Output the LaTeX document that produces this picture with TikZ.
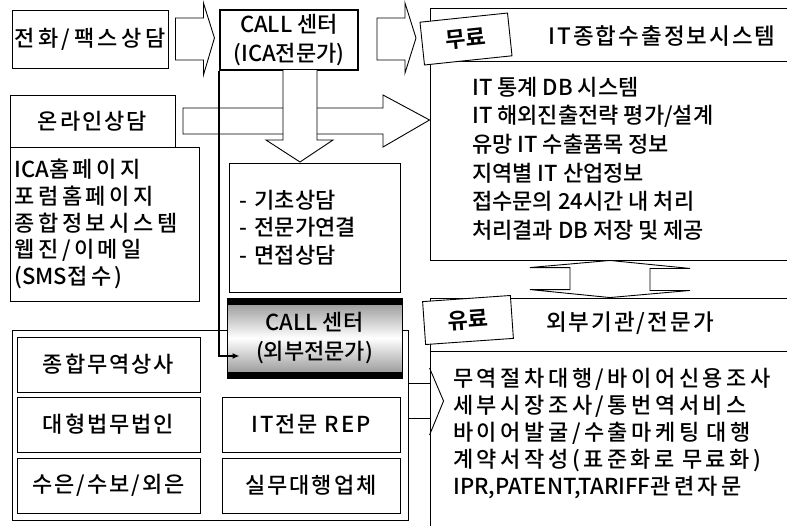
\documentclass[tikz,border=0pt]{standalone}
\usepackage{fontspec}
\usepackage{tikz}
\usetikzlibrary{arrows.meta, positioning, calc}
\IfFontExistsTF{Noto Sans CJK KR Medium}
  {\newcommand{\krname}{Noto Sans CJK KR Medium}}
  {\newcommand{\krname}{Noto Sans CJK KR}}
\newfontfamily\kr{\krname}[BoldFont={Noto Sans CJK KR Bold}]
\newfontfamily\krwide{\krname}[LetterSpace=16]
\newfontfamily\krmid{\krname}[LetterSpace=9]

\begin{document}
\begin{tikzpicture}[x=1pt, y=-1pt,
    box/.style={draw, line width=0.9pt, fill=white, align=center, inner sep=0pt,
                font=\kr\fontsize{22}{27}\selectfont},
    widebox/.style={box, font=\krwide\fontsize{22}{26.7}\selectfont},
    subbox/.style={box, minimum width=183pt, minimum height=55pt,
                   font=\krmid\fontsize{22}{27}\selectfont},
    callbox/.style={box, line width=2.4pt, font=\kr\fontsize{22}{29}\selectfont},
    calldark/.style={box, line width=1pt, font=\kr\fontsize{22}{29}\selectfont,
                     top color=black!45, bottom color=black!45, middle color=white,
                     path picture={
                       \fill[black] (path picture bounding box.north west)
                         rectangle ([yshift=-7pt]path picture bounding box.north east);
                       \fill[black] (path picture bounding box.south west)
                         rectangle ([yshift=6pt]path picture bounding box.south east);}},
    panel/.style={draw, line width=0.9pt, fill=white},
    tag/.style={draw, line width=0.9pt, fill=white, minimum width=88pt, minimum height=43pt,
                font=\kr\bfseries\fontsize{22}{27}\selectfont},
    title/.style={font=\krmid\fontsize{22.5}{27}\selectfont},
    listtext/.style={align=left, inner sep=0pt, font=\kr\fontsize{22}{28.6}\selectfont},
    barrow/.style={draw, line width=0.9pt, fill=white, line join=miter},
    link/.style={line width=1.4pt, -{Latex[length=7pt,width=6pt]}},
]
  \clip (0,0) rectangle (787,525);

  % right panels
  \node[panel, minimum width=360pt, minimum height=252pt] (topR) at (610,134) {};
  \draw[line width=0.9pt] ([yshift=-54pt]topR.north west) -- ([yshift=-54pt]topR.north east);
  \node[tag, rotate=6] (free) at (466,39) {무료};
  \node[title] (topTitle) at (662,36) {IT종합수출정보시스템};
  \node[listtext, anchor=west] (topList) at (472,158.5)
    {IT 통계 DB 시스템\\IT 해외진출전략 평가/설계\\유망 IT 수출품목 정보\\%
     지역별 IT 산업정보\\접수문의 24시간 내 처리\\처리결과 DB 저장 및 제공};

  \node[panel, minimum width=360pt, minimum height=232pt] (botR) at (610,414) {};
  \draw[line width=0.9pt] ([yshift=-54pt]botR.north west) -- ([yshift=-54pt]botR.north east);
  \node[tag, rotate=4] (paid) at (468,320) {유료};
  \node[title] (botTitle) at (630,323) {외부기관/전문가};
  \node[listtext, anchor=west, font=\krwide\fontsize{22}{27}\selectfont,
        text width=330pt] (botList) at (453,434)
    {무역절차대행/바이어신용조사\\세부시장조사/통번역서비스\\바이어발굴/수출마케팅 대행\\%
     계약서작성(표준화로 무료화)\\{\kr IPR,PATENT,TARIFF}관련자문};

  % up-down arrow between panels
  \draw[barrow] (topR.south) -- ++(80,8) -- ++(-40,0) -- ++(0,22) -- ++(40,0)
    -- (botR.north) -- ++(-80,-8) -- ++(40,0) -- ++(0,-22) -- ++(-40,0) -- cycle;

  % left column
  \node[widebox, minimum width=156pt, minimum height=58pt] (phone) at (90,39) {전화/팩스상담};
  \node[box, minimum width=165pt, minimum height=53pt,
        font=\krmid\fontsize{22}{27}\selectfont] (online) at (92.5,121.5) {온라인상담};
  \node[widebox, minimum width=189pt, minimum height=154pt, align=left,
        text width=180pt, inner xsep=4.5pt] (web) at (104.5,224)
    {{\kr ICA}홈페이지\\포럼홈페이지\\종합정보시스템\\웹진/이메일\\({\kr SMS}접수)};

  \node[callbox, minimum width=138pt, minimum height=60pt] (call1) at (289,40)
    {CALL 센터\\(ICA전문가)};

  % block arrows
  \draw[barrow] (183,108) -- (383,108) -- (383,95) -- (topR.west |- 0,120)
    -- (383,147) -- (383,134) -- (183,134) -- cycle;
  \draw[barrow] ([xshift=7pt,yshift=21pt]phone.east) -- ++(28,0) -- ++(0,-15) -- ++(11,35)
    -- ++(-11,37) -- ++(0,-15) -- ++(-28,0) -- cycle;
  \draw[barrow] (377,18) -- (405,18) -- (405,3) -- (416,38) -- (405,73) -- (405,60)
    -- (377,60) -- cycle;
  \draw[barrow] (283,70) -- (283,140) -- (266,140) -- (300,162) -- (333,140)
    -- (317,140) -- (317,70);

  \node[box, minimum width=171pt, minimum height=129pt, align=left,
        text width=150pt, inner xsep=10.5pt,
        font=\kr\fontsize{22}{27.5}\selectfont] (basic) at (314.5,227.5)
    {- 기초상담\\- 전문가연결\\- 면접상담};

  % lower left group
  \node[panel, minimum width=396pt, minimum height=190pt] (lowL) at (210,425) {};
  \node[subbox] (trade) at (108.5,364.5) {종합무역상사};
  \node[subbox] (law)   at (108.5,424.5) {대형법무법인};
  \node[subbox] (bank)  at (108.5,485.5) {수은/수보/외은};
  \node[subbox, minimum width=178pt] (rep)   at (311,424.5) {IT전문 REP};
  \node[subbox, minimum width=178pt] (agent) at (311,485.5) {실무대행업체};

  \node[calldark, minimum width=175pt, minimum height=80pt] (call2) at (314.5,338)
    {CALL 센터\\(외부전문가)};

  \draw[link] (call1.south west) |- ([xshift=13pt]call2.west |- 0,356);

  % open arrow into the paid panel
  \draw[line width=0.9pt] (lowL.east |- 0,383) -- (botR.west |- 0,383);
  \draw[line width=0.9pt] (lowL.east |- 0,418) -- (botR.west |- 0,418);
  \draw[line width=0.9pt] (botR.west |- 0,368) -- ++(14,33) -- (botR.west |- 0,435);
\end{tikzpicture}
\end{document}
